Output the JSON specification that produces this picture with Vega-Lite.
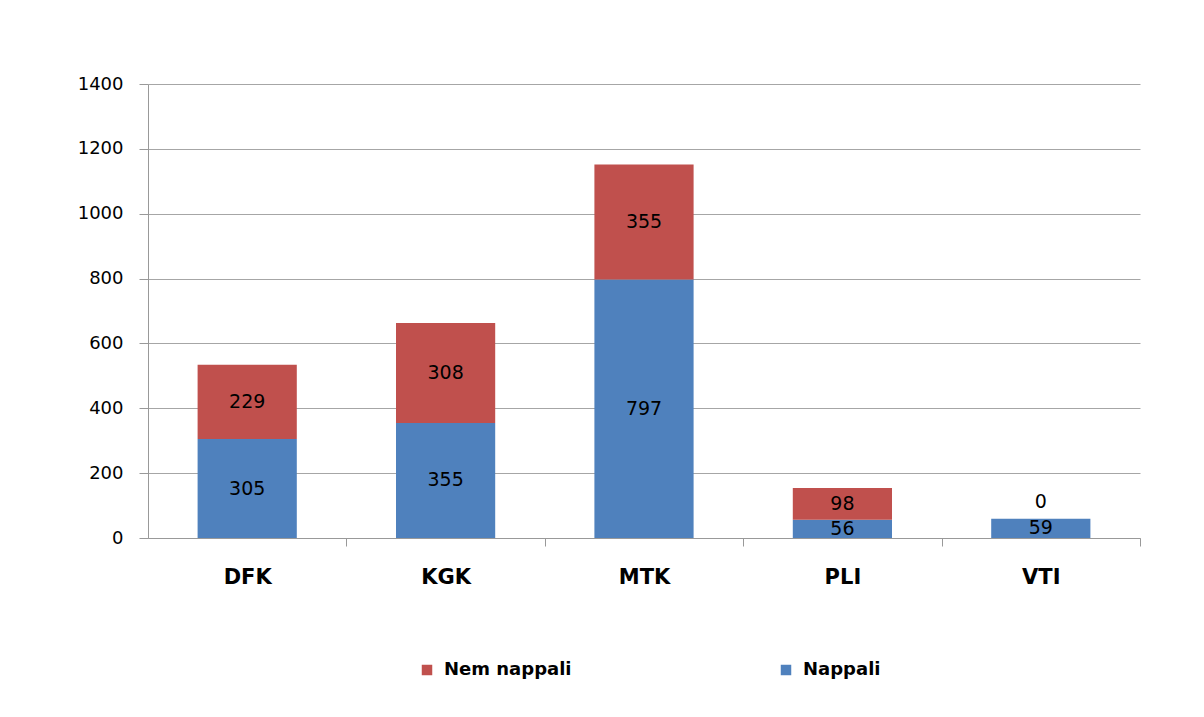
{
  "$schema": "https://vega.github.io/schema/vega-lite/v6.json",
  "autosize": "none",
  "width": 992,
  "height": 454,
  "padding": {"left": 148, "top": 84, "right": 64, "bottom": 179},
  "background": "white",
  "config": {
    "view": {"stroke": null},
    "font": "DejaVu Sans"
  },
  "data": {
    "values": [
      {"cat": "DFK", "series": "Nappali", "v": 305},
      {"cat": "DFK", "series": "Nem nappali", "v": 229},
      {"cat": "KGK", "series": "Nappali", "v": 355},
      {"cat": "KGK", "series": "Nem nappali", "v": 308},
      {"cat": "MTK", "series": "Nappali", "v": 797},
      {"cat": "MTK", "series": "Nem nappali", "v": 355},
      {"cat": "PLI", "series": "Nappali", "v": 56},
      {"cat": "PLI", "series": "Nem nappali", "v": 98},
      {"cat": "VTI", "series": "Nappali", "v": 59},
      {"cat": "VTI", "series": "Nem nappali", "v": 0}
    ]
  },
  "transform": [
    {"stack": "v", "groupby": ["cat"], "sort": [{"field": "series", "order": "ascending"}], "as": ["y0", "y1"]},
    {"calculate": "(datum.y0 + datum.y1) / 2", "as": "mid"}
  ],
  "encoding": {
    "x": {
      "field": "cat", "type": "nominal", "title": null,
      "scale": {"paddingInner": 0.5, "paddingOuter": 0.25},
      "axis": {
        "labelAngle": 0, "labelFont": "DejaVu Sans", "labelFontSize": 21, "labelFontWeight": "bold",
        "labelColor": "black", "labelPadding": 20, "tickSize": 8,
        "tickOffset": 99.2, "labelOffset": -99.2,
        "tickColor": "#999999", "domainColor": "#999999", "grid": false
      }
    }
  },
  "layer": [
    {
      "mark": {"type": "bar"},
      "encoding": {
        "y": {
          "field": "y0", "type": "quantitative", "title": null,
          "scale": {"domain": [0, 1400], "nice": false},
          "axis": {
            "values": [0, 200, 400, 600, 800, 1000, 1200, 1400], "format": "d",
            "labelFontSize": 18, "labelColor": "black", "labelPadding": 16,
            "tickSize": 9, "tickColor": "#999999", "domainColor": "#999999",
            "gridColor": "#a6a6a6", "gridOpacity": 1
          }
        },
        "y2": {"field": "y1"},
        "color": {
          "field": "series", "type": "nominal",
          "scale": {"domain": ["Nem nappali", "Nappali"], "range": ["#C0504D", "#4F81BD"]},
          "legend": {
            "title": null, "orient": "none", "direction": "horizontal",
            "legendX": 270, "legendY": 577, "padding": 0,
            "symbolType": "square", "symbolSize": 110, "symbolStrokeWidth": 0,
            "labelFontSize": 18, "labelColor": "black", "labelFont": "DejaVu Sans", "labelFontWeight": "bold",
            "columnPadding": 205, "labelOffset": 8
          }
        }
      }
    },
    {
      "transform": [{"filter": "datum.v > 0"}],
      "mark": {"type": "text", "fontSize": 19, "color": "black", "baseline": "middle", "align": "center"},
      "encoding": {
        "y": {"field": "mid", "type": "quantitative"},
        "text": {"field": "v", "type": "quantitative"}
      }
    },
    {
      "transform": [{"filter": "datum.v == 0"}],
      "mark": {"type": "text", "fontSize": 19, "color": "black", "baseline": "middle", "align": "center", "dy": -17},
      "encoding": {
        "y": {"field": "mid", "type": "quantitative"},
        "text": {"field": "v", "type": "quantitative"}
      }
    }
  ]
}
